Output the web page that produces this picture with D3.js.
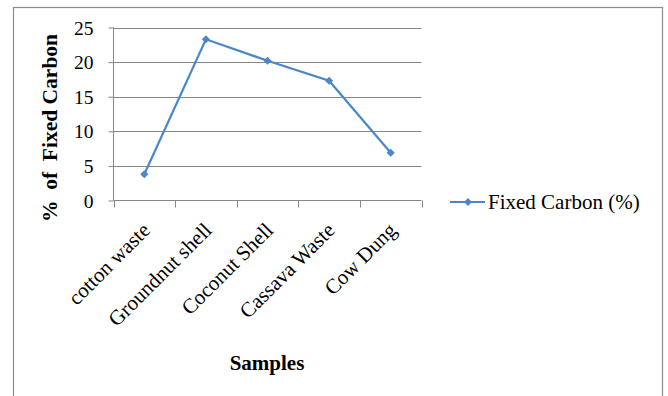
<!DOCTYPE html>
<html><head><meta charset="utf-8">
<script src="https://cdn.jsdelivr.net/npm/d3@7"></script>
<style>body{margin:0;background:#fff}svg{display:block}</style>
</head><body>
<script>
const categories = ["cotton waste","Groundnut shell","Coconut Shell","Cassava Waste","Cow Dung"];
const values = [3.8, 23.3, 20.2, 17.3, 6.9];
const yTicks = [0,5,10,15,20,25];
const seriesName = "Fixed Carbon (%)";

(function(){
const W=668,H=396;
const svg=d3.select("body").append("svg").attr("width",W).attr("height",H);
svg.append("rect").attr("width",W).attr("height",H).attr("fill","#fff");
svg.append("rect").attr("x",13.5).attr("y",7.5).attr("width",649).attr("height",400)
  .attr("fill","none").attr("stroke","#8c8c8c").attr("stroke-width",1.2);

const pL=113.5,pR=421.5,pT=27.5,pB=200.5;
const x=d3.scaleBand().domain(categories).range([pL,pR]).paddingInner(0).paddingOuter(0);
const y=d3.scaleLinear().domain([0,25]).range([pB,pT]);
const font="'Liberation Serif','Times New Roman',serif";

// gridlines
svg.append("g").selectAll("line").data(yTicks.filter(d=>d>0)).join("line")
  .attr("x1",pL).attr("x2",pR).attr("y1",d=>Math.round(y(d))+0.5).attr("y2",d=>Math.round(y(d))+0.5)
  .attr("stroke","#868686").attr("stroke-width",1);

// y axis
const ya=svg.append("g").attr("transform",`translate(${pL},0)`)
  .call(d3.axisLeft(y).tickValues(yTicks).tickSize(5).tickPadding(15));
ya.select(".domain").attr("stroke","#868686").attr("d",`M0,${pT}V${pB}`);
ya.selectAll(".tick line").attr("stroke","#868686");
ya.selectAll("text").attr("font-family",font).attr("font-size",19.5).attr("fill","#000").attr("dy","0.34em");

// x axis
const xa=svg.append("g").attr("transform",`translate(0,${pB})`)
  .call(d3.axisBottom(x).tickSize(0).tickFormat(""));
xa.select(".domain").attr("stroke","#868686").attr("d",`M${pL},0H${pR}`);
const bounds=categories.map(c=>x(c)).concat([x(categories[categories.length-1])+x.bandwidth()]);
svg.append("g").selectAll("line").data(bounds).join("line")
  .attr("x1",d=>Math.round(d)+0.5).attr("x2",d=>Math.round(d)+0.5)
  .attr("y1",pB).attr("y2",pB+7).attr("stroke","#868686");

svg.append("g").selectAll("text").data(categories).join("text")
  .attr("transform",d=>`translate(${x(d)+x.bandwidth()/2+7},${pB+31}) rotate(-45)`)
  .attr("text-anchor","end").attr("font-family",font).attr("font-size",21).attr("fill","#000")
  .text(d=>d);

// line
const color="#4a86c8";
const line=d3.line().x((d,i)=>x(categories[i])+x.bandwidth()/2).y(d=>y(d));
svg.append("path").datum(values).attr("d",line).attr("fill","none")
  .attr("stroke",color).attr("stroke-width",2.2);
const diamond=d3.symbol().type(d3.symbolDiamond2).size(42);
svg.append("g").selectAll("path").data(values).join("path")
  .attr("transform",(d,i)=>`translate(${x(categories[i])+x.bandwidth()/2},${y(d)})`)
  .attr("d",diamond).attr("fill",color);

// axis titles
svg.append("text").attr("x",267).attr("y",370).attr("text-anchor","middle")
  .attr("font-family",font).attr("font-size",21).attr("font-weight","bold").text("Samples");
svg.append("text").attr("transform","translate(57,128) rotate(-90)").attr("text-anchor","middle")
  .attr("font-family",font).attr("font-size",21.5).attr("font-weight","bold")
  .style("white-space","pre").text("%  of  Fixed Carbon");

// legend
const lg=svg.append("g").attr("transform","translate(450,202)");
lg.append("line").attr("x1",0).attr("x2",35).attr("y1",0).attr("y2",0).attr("stroke",color).attr("stroke-width",2.2);
lg.append("path").attr("transform","translate(18,0)").attr("d",diamond).attr("fill",color);
lg.append("text").attr("x",38).attr("y",7).attr("font-family",font).attr("font-size",21).text(seriesName);
})();
</script>
</body></html>
